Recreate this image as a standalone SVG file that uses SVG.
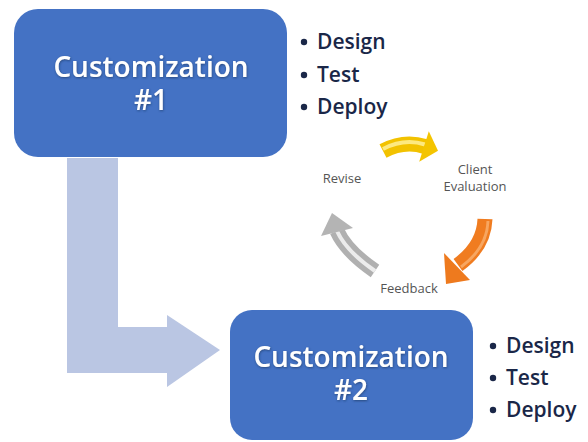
<svg xmlns="http://www.w3.org/2000/svg" width="588" height="442" viewBox="0 0 588 442">
<defs>
<style>
.box{fill:#4472c4;}
.title{font-family:"Open Sans","Liberation Sans",sans-serif;font-size:28px;font-weight:600;fill:#ffffff;text-anchor:middle;filter:url(#glow);}
.bul{font-family:"Open Sans","Liberation Sans",sans-serif;font-size:21px;font-weight:600;fill:#1a2748;}
.dot{fill:#1a2748;}
.lbl{font-family:"Open Sans","Liberation Sans",sans-serif;font-size:13px;fill:#555555;text-anchor:middle;}
.shaft{fill:none;stroke-width:15;stroke-linecap:butt;}
</style>
<filter id="glow" x="-10%" y="-30%" width="120%" height="160%">
<feDropShadow dx="0.5" dy="1" stdDeviation="1.2" flood-color="#1f3864" flood-opacity="0.7"/>
</filter>
</defs>
<rect width="588" height="442" fill="#ffffff"/>
<g id="connectors">
<polygon id="l-arrow" points="67,158 118,158 118,327 167,327 167,315 220,350 167,387 167,373 67,373" fill="#bac6e3"/>
<g id="arrow-yellow">
<path class="shaft" d="M383,151 Q404,140 425,146.5" stroke="#f2c200"/>
<path d="M383,149 Q404,138 425,144.5" fill="none" stroke="#fff3a0" stroke-width="4" opacity="0.8"/>
<polygon points="428.8,131.3 438,150.7 419.2,161.7" fill="#f4c400"/>
</g>
<g id="arrow-orange">
<path class="shaft" d="M485,219 Q484,246 458,265" stroke="#f07c20"/>
<path d="M488,221 Q487,248 461,267" fill="none" stroke="#f9b070" stroke-width="3" opacity="0.8"/>
<polygon points="444,253 470,280 446,284" fill="#ee7a1e"/>
</g>
<g id="arrow-gray">
<path class="shaft" d="M375,271 Q346,251 337,231" stroke="#b0b0b0"/>
<path d="M375,271 Q346,251 337,231" fill="none" stroke="#ececec" stroke-width="4"/>
<polygon points="321,236 332,213 353,228" fill="#b4b4b4"/>
</g>
</g>
<g id="node-c1">
<rect class="box" x="14" y="9" width="273" height="148" rx="24"/>
<text class="title"><tspan x="151" y="77">Customization</tspan><tspan x="151" y="110">#1</tspan></text>
</g>
<g id="list-1">
<circle class="dot" cx="304" cy="42" r="3.2"/>
<text class="bul" x="317" y="49">Design</text>
<circle class="dot" cx="304" cy="75" r="3.2"/>
<text class="bul" x="317" y="82">Test</text>
<circle class="dot" cx="304" cy="107" r="3.2"/>
<text class="bul" x="317" y="114">Deploy</text>
</g>
<g id="node-c2">
<rect class="box" x="230" y="310" width="243" height="130" rx="22"/>
<text class="title"><tspan x="351" y="367">Customization</tspan><tspan x="351" y="400">#2</tspan></text>
</g>
<g id="list-2">
<circle class="dot" cx="493" cy="346" r="3.2"/>
<text class="bul" x="506" y="353">Design</text>
<circle class="dot" cx="493" cy="378" r="3.2"/>
<text class="bul" x="506" y="385">Test</text>
<circle class="dot" cx="493" cy="410" r="3.2"/>
<text class="bul" x="506" y="417">Deploy</text>
</g>
<g id="node-client">
<text class="lbl" x="475" y="174">Client</text>
<text class="lbl" x="475" y="191">Evaluation</text>
</g>
<g id="node-revise">
<text class="lbl" x="342" y="183">Revise</text>
</g>
<g id="node-feedback">
<text class="lbl" x="409" y="293">Feedback</text>
</g>
</svg>
